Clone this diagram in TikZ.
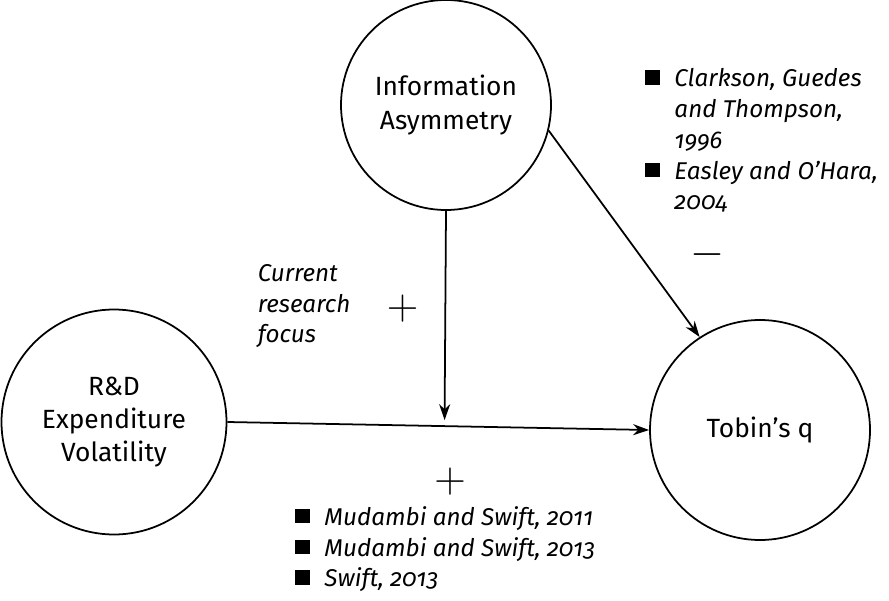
\documentclass[tikz,border=0pt]{standalone}
\usepackage{fontspec}
\setmainfont{Fira Sans}[Numbers=OldStyle]
\usepackage{tikz}
\usetikzlibrary{positioning,calc,arrows.meta}

\newcommand{\bsq}{\rule[0.15ex]{0.6em}{0.6em}}

\begin{document}
\begin{tikzpicture}[
    factor/.style={circle, draw, line width=1pt, align=center, font=\fontsize{15}{19}\selectfont},
    refs/.style={anchor=north west, align=left, inner sep=0pt, font=\fontsize{13.8}{17.5}\selectfont\itshape},
    sign/.style={font=\fontsize{29}{29}\selectfont},
    arrow/.style={-{Stealth[length=3.2mm,width=2.2mm]}, line width=1pt}
]
    \useasboundingbox (0,0) rectangle (17.78,12);

    \node[factor, minimum size=4.2cm] (info) at (8.92,9.9) {Information\\Asymmetry};
    \node[factor, minimum size=4.5cm] (rd) at (2.28,3.56) {R\&D\\Expenditure\\Volatility};
    \node[factor, minimum size=4.4cm] (tobin) at (15.2,3.4) {Tobin's q};

    \draw[arrow] (rd.east) -- (tobin.west) coordinate[pos=0.515] (meet);
    \draw[arrow] (info.south) -- ($(meet)+(0,0.12)$);
    \draw[arrow] (info.-14) -- (tobin.123);

    % labels
    \node[refs] (focus) at (5.15,6.72) {Current\\research\\focus};
    \node[sign] (plusfocus) at (8.05,5.83) {$+$};
    \node[sign] (plusmain) at (9.0,2.36) {$+$};
    \node[sign] (minus) at (14.14,6.9) {$-$};

    \node[refs] (topref) at (12.9,10.7) {%
        \begin{tabular}{@{}l@{\hspace{0.6em}}l@{}}
        \bsq & Clarkson, Guedes\\
             & and Thompson,\\
             & 1996\\
        \bsq & Easley and O'Hara,\\
             & 2004
        \end{tabular}};
    \node[refs] (botref) at (5.9,1.93) {%
        \begin{tabular}{@{}l@{\hspace{0.6em}}l@{}}
        \bsq & Mudambi and Swift, 2011\\
        \bsq & Mudambi and Swift, 2013\\
        \bsq & Swift, 2013
        \end{tabular}};
\end{tikzpicture}
\end{document}
